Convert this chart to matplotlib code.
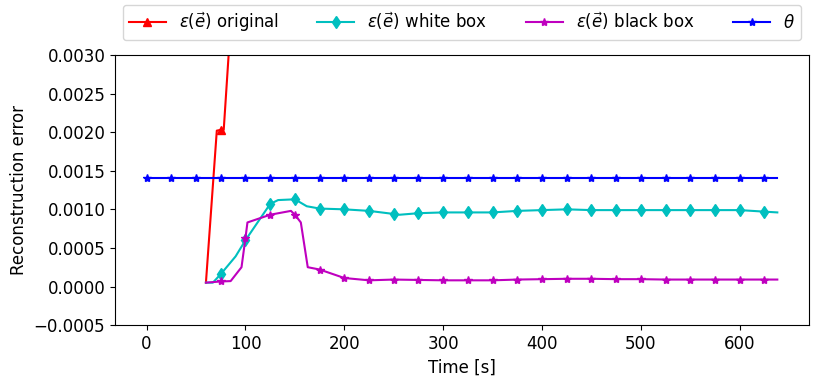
import matplotlib
matplotlib.use("Agg")
import matplotlib.pyplot as plt

plt.rc('font', size=12)

# threshold theta
theta_t = [0, 25, 50, 75, 100, 125, 150, 175, 200, 225, 250, 275, 300, 325, 350,
           375, 400, 425, 450, 475, 500, 525, 550, 575, 600, 625, 638]
theta_v = [0.0014] * len(theta_t)

# original reconstruction error (leaves the plot at the top)
orig_t = [60, 71, 75, 78, 85]
orig_v = [0.00005, 0.00202, 0.00203, 0.00203, 0.0034]

# white box
white_t = [60, 67, 75, 90, 100, 125, 133, 150, 162, 175, 200, 225, 250, 256, 275,
           300, 325, 350, 375, 400, 425, 450, 475, 500, 525, 550, 575, 600, 625, 638]
white_v = [0.00005, 0.00005, 0.00016, 0.00039, 0.00060, 0.00107, 0.00112, 0.00113,
           0.00104, 0.00101, 0.00100, 0.00098, 0.00094, 0.00093, 0.00095, 0.00096,
           0.00096, 0.00096, 0.00098, 0.00099, 0.00100, 0.00099, 0.00099, 0.00099,
           0.00099, 0.00099, 0.00099, 0.00099, 0.00097, 0.00096]

# black box
black_t = [60, 75, 85, 96, 100, 102, 125, 146, 150, 156, 163, 175, 200, 225, 250,
           275, 300, 325, 350, 375, 400, 425, 450, 475, 500, 525, 550, 575, 600, 625, 638]
black_v = [0.00005, 0.000065, 0.00007, 0.00025, 0.00063, 0.00083, 0.00093, 0.00098,
           0.00093, 0.00083, 0.00025, 0.00022, 0.00011, 0.00008, 0.00009, 0.000085,
           0.00008, 0.00008, 0.00008, 0.00009, 0.000095, 0.0001, 0.0001, 0.000095,
           0.000095, 0.00009, 0.00009, 0.00009, 0.00009, 0.00009, 0.00009]


def marks(times):
    return [i for i, t in enumerate(times) if t % 25 == 0]


fig = plt.figure(figsize=(8.22, 3.82), dpi=100)
ax = fig.add_axes([0.14, 0.149, 0.844, 0.707])

ax.plot(orig_t, orig_v, 'r-^', markevery=marks(orig_t), markersize=6,
        label=r'$\varepsilon(\vec{e})$ original')
ax.plot(white_t, white_v, 'c-d', markevery=marks(white_t), markersize=6,
        label=r'$\varepsilon(\vec{e})$ white box')
ax.plot(black_t, black_v, 'm-*', markevery=marks(black_t), markersize=6,
        label=r'$\varepsilon(\vec{e})$ black box')
ax.plot(theta_t, theta_v, 'b-*', markevery=marks(theta_t), markersize=6,
        label=r'$\theta$')

ax.set_ylim(-0.0005, 0.003)
ax.set_xlabel('Time [s]')
ax.set_ylabel('Reconstruction error')
ax.legend(loc='lower center', bbox_to_anchor=(0.5, 1.025), ncol=4,
          handlelength=2.2, borderpad=0.35, columnspacing=2.3)

fig.savefig('out.png')
